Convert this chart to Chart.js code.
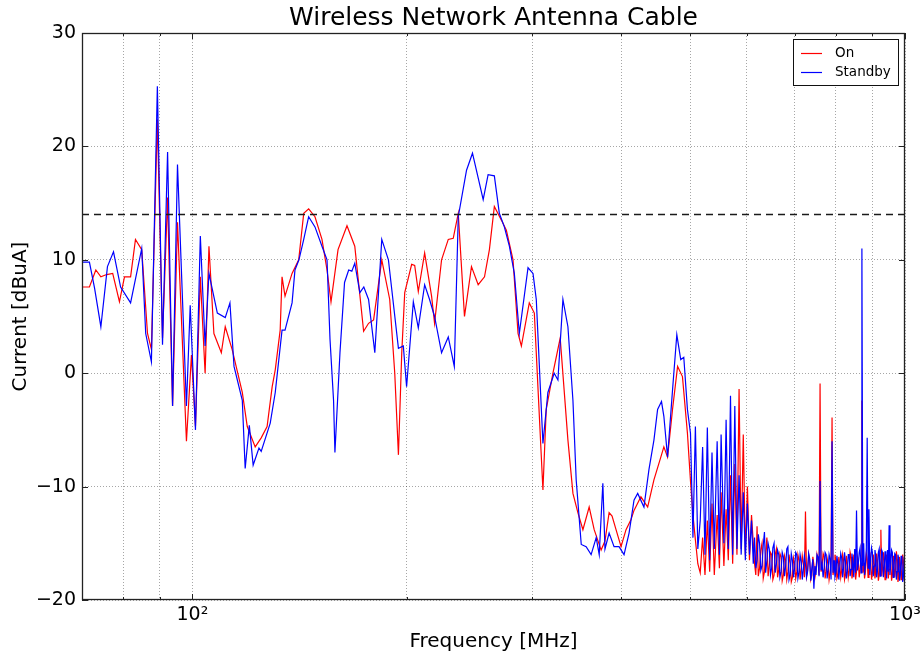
<!DOCTYPE html>
<html>
<head>
<meta charset="utf-8">
<title>Wireless Network Antenna Cable</title>
<script src="https://cdn.jsdelivr.net/npm/chart.js@4.4.1/dist/chart.umd.min.js"></script>
<style>
  html, body { margin: 0; padding: 0; background: #fff; }
  #wrap { width: 922px; height: 657px; }
</style>
</head>
<body>
<div id="wrap"><canvas id="chart" width="922" height="657"></canvas></div>
<script>
/* ── Data ──────────────────────────────────────────────────── */
// "On" trace, 70 – 495 MHz
const onFreq = [70, 71.7, 73.2, 74.4, 75.8, 77.3, 79.0, 80.3, 81.9, 83.2, 84.9, 86.5, 87.6, 89.3, 90.8, 92.3, 93.8, 95.3, 98.1, 99.7,
  101.0, 102.6, 104.2, 105.5, 107.2, 109.8, 111.2, 113.7, 117.5, 119.4, 122.5, 124.9, 127.3, 129.4, 130.7, 132.8, 133.6, 134.9, 138.0, 141.0,
  143.3, 145.6, 148.6, 152.0, 154.5, 156.5, 160.1, 164.8, 169.0, 173.9, 176.7, 179.6, 184.4, 189.2, 192.3, 194.6, 196.7, 198.6, 203.1, 205.1,
  207.5, 211.8, 216.6, 218.7, 223.7, 228.6, 232.3, 236.1, 240.9, 246.4, 251.8, 257.0, 261.1, 265.3, 271.4, 275.8, 281.8, 286.4, 289.5, 297.0,
  301.9, 310.4, 313.7, 320.6, 328.2, 336.5, 342.0, 347.5, 353.2, 360.4, 366.3, 374.6, 379.3, 384.4, 388.1, 393.1, 399.5, 406.0, 412.6, 416.6,
  426.0, 435.4, 444.3, 454.3, 458.8, 464.3, 471.8, 479.6, 487.2, 495.1];
const onVals = [7.6, 7.6, 9.1, 8.5, 8.7, 8.8, 6.3, 8.5, 8.5, 11.8, 10.9, 3.5, 2.1, 22.4, 3.1, 15.5, -2.9, 13.3, -6.0, 1.6,
  -4.7, 8.5, 0, 11.2, 3.5, 1.8, 4.1, 2.1, -1.7, -4.7, -6.5, -5.7, -4.7, -1.2, 0.3, 3.8, 8.5, 6.8, 8.8, 10.0,
  14.1, 14.5, 13.8, 11.8, 9.1, 6.3, 10.9, 13.0, 11.2, 3.7, 4.4, 4.7, 10.0, 6.5, 0, -7.2, 1.8, 7.1, 9.6, 9.5,
  7.2, 10.6, 6.8, 4.4, 10.0, 11.8, 11.9, 14.1, 5.0, 9.4, 7.8, 8.5, 10.9, 14.7, 13.5, 12.6, 10.0, 3.5, 2.4, 6.2,
  5.3, -10.3, -3.2, 0, 3.1, -5.9, -10.6, -12.3, -13.8, -11.8, -13.8, -15.6, -14.8, -12.3, -12.6, -13.8, -15.3, -13.8, -12.9, -12.1,
  -10.9, -11.8, -9.4, -7.4, -6.5, -7.4, -3.2, 0.6, -0.3, -5.3];

// "Standby" trace, 70 – 495 MHz
const sbFreq = [70, 71.7, 72.9, 74.4, 76.0, 77.5, 79.3, 81.9, 84.9, 86.0, 87.6, 89.3, 90.8, 92.3, 93.8, 95.3, 98.1, 99.3, 101.0, 102.6,
  104.2, 105.5, 108.4, 111.2, 112.9, 114.4, 117.5, 118.6, 120.2, 121.7, 124.0, 124.9, 128.6, 130.7, 133.6, 134.9, 138.0, 139.3, 141.1, 143.3,
  145.6, 148.6, 152.0, 154.5, 156.0, 157.8, 158.5, 161.1, 163.5, 165.7, 167.4, 169.0, 171.8, 174.0, 176.7, 180.3, 184.4, 188.4, 194.6, 197.7,
  199.8, 204.2, 207.5, 211.8, 215.2, 218.7, 223.7, 228.6, 233.1, 236.1, 242.5, 247.2, 255.9, 260.0, 265.3, 269.6, 274.0, 278.5, 283.0, 287.6,
  295.8, 300.6, 303.8, 310.4, 315.4, 321.9, 325.8, 331.1, 336.5, 342.0, 345.6, 351.3, 356.9, 362.7, 368.7, 372.3, 376.7, 379.3, 384.4, 390.6,
  396.9, 403.4, 410.0, 416.6, 421.6, 430.2, 437.2, 444.3, 449.6, 455.3, 458.8, 464.3, 471.8, 478.4, 484.5, 489.3, 495.1];
const sbVals = [9.8, 9.8, 7.5, 4.1, 9.4, 10.7, 7.6, 6.2, 11.0, 3.5, 1.0, 25.3, 2.5, 19.5, -2.9, 18.4, -2.9, 6.0, -5.0, 12.1,
  2.4, 8.8, 5.3, 4.9, 6.2, 0.6, -2.4, -8.4, -4.6, -8.1, -6.6, -6.9, -4.4, -1.7, 3.8, 3.8, 6.2, 9.1, 10.0, 11.8,
  13.8, 12.9, 11.2, 10.0, 3.0, -2.4, -7.0, 1.8, 8.0, 9.1, 9.0, 9.7, 7.1, 7.6, 6.5, 1.8, 11.8, 10.0, 2.2, 2.4,
  -1.2, 6.3, 4.0, 7.8, 6.5, 5.0, 1.8, 3.2, 0.6, 13.8, 17.9, 19.4, 15.3, 17.5, 17.4, 14.1, 12.9, 11.2, 8.8, 3.5,
  9.3, 8.8, 6.5, -6.2, -1.7, 0, -0.6, 6.5, 4.1, -2.4, -9.4, -15.1, -15.3, -16.0, -14.5, -16.0, -9.7, -15.5, -14.1, -15.3,
  -15.3, -16.0, -14.1, -11.2, -10.6, -11.8, -8.5, -5.9, -3.2, -2.5, -3.8, -7.4, -1.5, 3.4, 1.2, 1.4, -3.2];

// 500 – 1000 MHz, both traces on the same frequencies
const tailFreq = [500, 504, 508, 512, 516, 520, 524, 528, 532, 536, 540, 545, 549, 552, 557, 561, 565, 569, 573, 577,
  581, 585, 589, 593, 597, 601, 605, 609,
  612.5, 615, 617.5, 620, 622.5, 625, 627.5, 630, 632.5, 635,
  637.5, 640, 642.5, 645, 647.5, 650, 652.5, 655, 657.5, 660,
  662.5, 665, 667.5, 670, 672.5, 675, 677.5, 680, 682.5, 685,
  687.5, 690, 692.5, 695, 697.5, 700, 702.5, 705, 707.5, 710,
  712.5, 715, 717.5, 720, 722.5, 725, 727.5, 730, 732.5, 735,
  737.5, 740, 742.5, 745, 747.5, 750, 752.5, 755, 757.5, 760,
  762.5, 765, 767.5, 770, 772.5, 775, 777.5, 780, 782.5, 785,
  787.5, 790, 792.5, 795, 797.5, 800, 802.5, 805, 807.5, 810,
  812.5, 815, 817.5, 820, 822.5, 825, 827.5, 830, 832.5, 835,
  837.5, 840, 842.5, 845, 847.5, 850, 852.5, 855, 857.5, 860,
  862.5, 865, 867.5, 870, 872.5, 875, 877.5, 880, 882.5, 885,
  887.5, 890, 892.5, 895, 897.5, 900, 902.5, 905, 907.5, 910,
  912.5, 915, 917.5, 920, 922.5, 925, 927.5, 930, 932.5, 935,
  937.5, 940, 942.5, 945, 947.5, 950, 952.5, 955, 957.5, 960,
  962.5, 965, 967.5, 970, 972.5, 975, 977.5, 980, 982.5, 985,
  987.5, 990, 992.5, 995, 997.5, 1000];
const onTail = [-9.5, -12.5, -14.7, -16.8, -17.6, -14.5, -17.8, -13.0, -17.5, -11.5, -17.8, -12.5, -17.2, -10.5, -17.0, -12.0, -16.5, -9.0, -16.8, -8.0,
  -16.0, -1.4, -15.5, -5.4, -16.0, -10.0, -16.5, -12.5,
  -15.0, -16.8, -17.8, -13.5, -17.9, -17.2, -15.6, -15.0, -18.1, -17.5,
  -15.9, -14.5, -17.9, -17.0, -15.8, -16.0, -18.2, -17.8, -16.0, -15.5,
  -18.0, -17.3, -15.9, -16.2, -18.3, -17.8, -16.1, -16.5, -18.2, -17.5,
  -16.0, -16.8, -18.4, -18.0, -16.3, -16.8, -18.1, -17.5, -16.0, -16.5,
  -18.2, -17.2, -16.1, -16.8, -18.0, -12.2, -17.9, -17.4, -16.0, -16.6,
  -18.2, -17.8, -16.2, -16.9, -18.0, -17.4, -16.0, -16.5, -17.8, -0.9,
  -17.5, -17.0, -15.9, -16.2, -18.1, -17.5, -16.3, -16.8, -18.2, -17.6,
  -16.4, -3.9, -17.8, -17.2, -16.0, -16.6, -18.1, -17.8, -16.2, -16.9,
  -18.0, -17.4, -16.0, -16.5, -18.2, -17.8, -16.1, -16.8, -18.0, -17.4,
  -15.8, -16.2, -18.1, -17.6, -16.0, -16.9, -18.2, -17.5, -16.2, -16.6,
  -18.0, -17.3, -16.4, -2.4, -17.6, -16.7, -18.1, -17.5, -15.9, -16.4,
  -18.0, -17.2, -15.8, -16.5, -18.2, -17.6, -16.0, -16.8, -18.1, -17.4,
  -15.9, -16.6, -18.3, -17.8, -15.6, -13.8, -17.9, -17.2, -15.8, -16.4,
  -18.2, -17.6, -16.0, -16.8, -18.1, -17.3, -15.9, -16.6, -18.3, -17.8,
  -16.1, -16.9, -18.0, -17.3, -15.7, -16.4, -18.4, -17.9, -16.2, -16.8,
  -18.2, -17.5, -16.0, -16.6, -18.3, -17.8];
const sbTail = [-5.3, -14.5, -4.7, -15.5, -13.0, -6.5, -16.0, -4.8, -16.5, -7.0, -15.5, -6.0, -16.0, -5.4, -15.0, -4.1, -15.5, -2.0, -16.0, -2.9,
  -15.5, -9.0, -16.0, -10.5, -16.5, -11.5, -16.0, -13.0,
  -16.8, -14.5, -17.2, -16.5, -14.2, -15.0, -17.4, -17.0, -15.2, -14.0,
  -17.6, -16.5, -15.0, -15.5, -17.8, -17.2, -15.4, -15.0, -17.6, -16.8,
  -15.6, -16.0, -18.0, -17.5, -15.8, -16.2, -17.9, -17.0, -15.5, -15.3,
  -18.2, -17.8, -15.9, -16.5, -18.0, -17.2, -15.8, -16.0, -18.1, -17.6,
  -16.0, -16.6, -18.2, -17.3, -16.1, -16.8, -18.0, -17.5, -15.9, -16.4,
  -18.3, -17.2, -16.4, -19.0, -17.0, -17.8, -16.0, -16.2, -17.9, -9.5,
  -17.4, -16.8, -18.0, -17.2, -15.8, -16.0, -18.1, -17.4, -16.0, -16.4,
  -18.2, -6.0, -17.6, -16.5, -18.0, -17.6, -16.1, -16.8, -18.2, -17.0,
  -15.9, -16.3, -18.0, -17.2, -15.8, -16.6, -18.1, -17.5, -16.0, -16.0,
  -17.9, -17.3, -15.9, -16.7, -18.0, -15.5, -17.6, -12.1, -17.4, -16.8,
  -15.8, -15.4, -17.6, 11.0, -17.0, -15.0, -17.8, -16.8, -15.6, -5.7,
  -17.2, -12.0, -17.8, -16.5, -15.4, -15.8, -17.9, -17.0, -15.6, -16.2,
  -18.0, -17.4, -15.8, -15.5, -17.9, -16.8, -15.6, -15.8, -18.0, -17.2,
  -15.7, -16.4, -18.1, -15.6, -17.5, -13.4, -17.8, -16.8, -15.6, -15.8,
  -18.0, -17.2, -15.9, -16.0, -18.2, -17.5, -16.0, -16.4, -18.3, -17.8,
  -16.1, -16.6, -18.4, -17.9, -16.2, -17.0];

// dashed limit line and axis ticks
const limitLevel = 14;
const xGrid = [80, 90, 100, 200, 300, 400, 500, 600, 700, 800, 900, 1000];
const xMajor = [100, 1000];
const xMajorLabels = ['10\u00B2', '10\u00B3'];
const yTicks = [-20, -10, 0, 10, 20, 30];

/* ── Helpers ───────────────────────────────────────────────── */
const FONT = "'DejaVu Sans', 'Bitstream Vera Sans', Verdana, sans-serif";
const pts = (fs, vs) => fs.map((f, i) => ({ x: f, y: vs[i] }));

/* Frame + inward tick marks, matplotlib style */
const axesFrame = {
  id: 'axesFrame',
  afterDatasetsDraw(chart) {
    const { ctx, chartArea: a, scales: { x, y } } = chart;
    ctx.save();
    ctx.strokeStyle = '#222';
    ctx.lineWidth = 1;
    ctx.beginPath();
    xGrid.forEach(v => {
      const px = Math.round(x.getPixelForValue(v)) + 0.5;
      const len = xMajor.includes(v) ? 6 : 3;
      ctx.moveTo(px, a.bottom); ctx.lineTo(px, a.bottom - len);
      ctx.moveTo(px, a.top);    ctx.lineTo(px, a.top + len);
    });
    yTicks.forEach(v => {
      const py = Math.round(y.getPixelForValue(v)) + 0.5;
      ctx.moveTo(a.left, py);  ctx.lineTo(a.left + 6, py);
      ctx.moveTo(a.right, py); ctx.lineTo(a.right - 6, py);
    });
    ctx.stroke();
    ctx.lineWidth = 1.3;
    ctx.strokeRect(Math.round(a.left) + 0.5, Math.round(a.top) + 0.5,
                   Math.round(a.right - a.left) - 1, Math.round(a.bottom - a.top) - 1);
    ctx.restore();
  }
};

/* Boxed legend in the top-right corner of the plot */
const boxLegend = {
  id: 'boxLegend',
  afterDatasetsDraw(chart) {
    const { ctx, chartArea: a } = chart;
    const items = chart.data.datasets.filter(d => d.inLegend)
      .sort((p, q) => p.legendRank - q.legendRank);
    const x0 = Math.round(a.right) - 112, y0 = Math.round(a.top) + 6;
    const w = 105, h = 46;
    ctx.save();
    ctx.fillStyle = '#fff';
    ctx.fillRect(x0, y0, w, h);
    ctx.strokeStyle = '#111';
    ctx.lineWidth = 1;
    ctx.strokeRect(x0 + 0.5, y0 + 0.5, w, h);
    ctx.font = `13.5px ${FONT}`;
    ctx.textBaseline = 'middle';
    ctx.fillStyle = '#000';
    items.forEach((d, i) => {
      const cy = y0 + 14 + i * 19;
      ctx.strokeStyle = d.borderColor;
      ctx.lineWidth = 1.2;
      ctx.beginPath();
      ctx.moveTo(x0 + 8, cy + 0.5); ctx.lineTo(x0 + 29, cy + 0.5);
      ctx.stroke();
      ctx.fillText(d.label, x0 + 42, cy);
    });
    ctx.restore();
  }
};

/* ── Chart ─────────────────────────────────────────────────── */
new Chart(document.getElementById('chart'), {
  type: 'line',
  data: {
    datasets: [
      {
        label: 'limit',
        data: [{ x: 70, y: limitLevel }, { x: 1000, y: limitLevel }],
        borderColor: '#1a1a1a', borderWidth: 1.4, borderDash: [7, 5], order: 0
      },
      {
        label: 'Standby', inLegend: true, legendRank: 2,
        data: pts(sbFreq.concat(tailFreq), sbVals.concat(sbTail)),
        borderColor: '#0000ff', borderWidth: 1.2, order: 1
      },
      {
        label: 'On', inLegend: true, legendRank: 1,
        data: pts(onFreq.concat(tailFreq), onVals.concat(onTail)),
        borderColor: '#ff0000', borderWidth: 1.2, order: 2
      }
    ]
  },
  options: {
    responsive: false,
    animation: false,
    devicePixelRatio: 1,
    events: [],
    layout: { padding: { left: 0, right: 17, top: 0, bottom: 0 } },
    elements: { point: { radius: 0 }, line: { tension: 0, fill: false } },
    plugins: {
      legend: { display: false },
      tooltip: { enabled: false },
      title: {
        display: true,
        text: 'Wireless Network Antenna Cable',
        fullSize: false,
        color: '#000',
        font: { family: FONT, size: 25, weight: 'normal', lineHeight: 1.1 },
        padding: { top: 5, bottom: 0.5 }
      }
    },
    scales: {
      x: {
        type: 'logarithmic',
        min: 70, max: 1000,
        afterBuildTicks: ax => { ax.ticks = xGrid.map(v => ({ value: v })); },
        afterFit: ax => { ax.height = 57; ax.paddingLeft = 0; ax.paddingRight = 0; },
        ticks: {
          autoSkip: false, maxRotation: 0, minRotation: 0, padding: 4, color: '#000',
          font: { family: FONT, size: 19 },
          callback: v => { const k = xMajor.indexOf(v); return k >= 0 ? xMajorLabels[k] : ''; }
        },
        grid: { color: 'rgba(0,0,0,0.35)', lineWidth: 1, drawTicks: false, borderDash: [1, 2] },
        border: { display: false, dash: [1, 2] },
        title: {
          display: true, text: 'Frequency [MHz]', color: '#000',
          font: { family: FONT, size: 20 }, padding: { top: 0, bottom: 3 }
        }
      },
      y: {
        min: -20, max: 30,
        afterBuildTicks: ax => { ax.ticks = yTicks.map(v => ({ value: v })); },
        afterFit: ax => { ax.width = 82; },
        ticks: {
          padding: 6, color: '#000', font: { family: FONT, size: 19 },
          callback: v => String(v).replace('-', '\u2212')
        },
        grid: { color: 'rgba(0,0,0,0.35)', lineWidth: 1, drawTicks: false, borderDash: [1, 2] },
        border: { display: false, dash: [1, 2] },
        title: {
          display: true, text: 'Current [dBuA]', color: '#000',
          font: { family: FONT, size: 20 }, padding: { top: 9, bottom: 0 }
        }
      }
    }
  },
  plugins: [axesFrame, boxLegend]
});
</script>
</body>
</html>
